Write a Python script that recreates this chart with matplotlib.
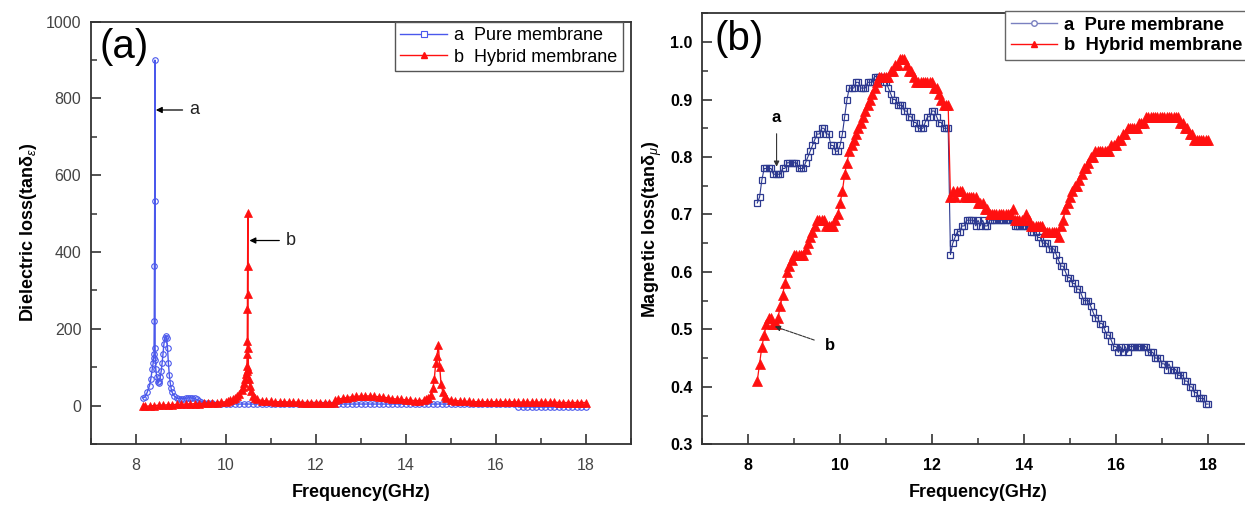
import numpy as np
import matplotlib.pyplot as plt
from matplotlib.lines import Line2D
from matplotlib.ticker import MultipleLocator

plt.rcParams['font.family'] = ['Liberation Sans', 'DejaVu Sans']
plt.rcParams['mathtext.fontset'] = 'custom'
plt.rcParams['mathtext.rm'] = 'Liberation Sans'
plt.rcParams['mathtext.it'] = 'Liberation Sans:italic'
plt.rcParams['mathtext.bf'] = 'Liberation Sans:bold'

# ---- (a) dielectric loss ----
freq_pure_a = [8.15, 8.20, 8.25, 8.30, 8.33, 8.36, 8.38, 8.39, 8.40, 8.405,
               8.41, 8.415, 8.42, 8.425, 8.43, 8.44, 8.46, 8.48, 8.50, 8.52,
               8.54, 8.56, 8.58, 8.60, 8.62, 8.64, 8.66, 8.68, 8.70, 8.72,
               8.74, 8.76, 8.78, 8.80, 8.85, 8.90, 8.95, 9.00, 9.05, 9.10,
               9.15, 9.20, 9.25, 9.30, 9.35, 9.40, 9.45, 9.50,
               9.6, 9.7, 9.8, 9.9, 10.0, 10.1, 10.2, 10.3, 10.4, 10.5,
               10.6, 10.7, 10.8, 10.9, 11.0, 11.1, 11.2, 11.3, 11.4, 11.5,
               11.6, 11.7, 11.8, 11.9, 12.0, 12.1, 12.2, 12.3, 12.4, 12.5,
               12.6, 12.7, 12.8, 12.9, 13.0, 13.1, 13.2, 13.3, 13.4, 13.5,
               13.6, 13.7, 13.8, 13.9, 14.0, 14.1, 14.2, 14.3, 14.4, 14.5,
               14.6, 14.7, 14.8, 14.9, 15.0, 15.1, 15.2, 15.3, 15.4, 15.5,
               15.6, 15.7, 15.8, 15.9, 16.0, 16.1, 16.2, 16.3, 16.4, 16.5,
               16.6, 16.7, 16.8, 16.9, 17.0, 17.1, 17.2, 17.3, 17.4, 17.5,
               17.6, 17.7, 17.8, 17.9, 18.0]
eps_pure = [20, 22, 35, 52, 70, 95, 110, 125, 135, 221,
            364, 533, 900, 150, 120, 95, 75, 62, 60, 65,
            75, 90, 110, 135, 160, 175, 182, 175, 150, 110,
            80, 60, 45, 35, 25, 20, 18, 18, 18, 19,
            20, 20, 20, 19, 16, 12, 10, 8,
            7, 6, 5, 5, 4, 4, 4, 4, 4, 4,
            4, 4, 4, 3, 3, 3, 3, 3, 3, 3,
            3, 3, 3, 3, 3, 3, 3, 3, 4, 4,
            4, 4, 4, 4, 4, 4, 4, 4, 4, 4,
            4, 4, 4, 4, 4, 4, 4, 4, 4, 4,
            4, 4, 4, 4, 4, 4, 4, 4, 4, 4,
            4, 4, 4, 4, 4, 4, 4, 4, 4, -4,
            -4, -4, -4, -4, -4, -4, -4, -4, -4, -4,
            -4, -4, -4, -4, -4]

freq_hyb_a = [8.15, 8.2, 8.3, 8.4, 8.5, 8.6, 8.7, 8.8, 8.9, 9.0,
              9.1, 9.2, 9.3, 9.4, 9.5, 9.6, 9.7, 9.8, 9.9, 10.0,
              10.05, 10.1, 10.15, 10.2, 10.25, 10.3, 10.35, 10.38, 10.41, 10.43,
              10.45, 10.46, 10.465, 10.47, 10.473, 10.476, 10.479, 10.482, 10.485, 10.49,
              10.5, 10.51, 10.53, 10.55, 10.6, 10.65, 10.7, 10.8, 10.9, 11.0,
              11.1, 11.2, 11.3, 11.4, 11.5, 11.6, 11.7, 11.8, 11.9, 12.0,
              12.1, 12.2, 12.3, 12.4, 12.42, 12.5, 12.6, 12.7, 12.8, 12.9,
              13.0, 13.1, 13.2, 13.3, 13.4, 13.5, 13.6, 13.7, 13.8, 13.9,
              14.0, 14.1, 14.2, 14.3, 14.4, 14.45, 14.5, 14.55, 14.6, 14.63,
              14.66, 14.69, 14.72, 14.75, 14.78, 14.82, 14.86, 14.9, 15.0, 15.1,
              15.2, 15.3, 15.4, 15.5, 15.6, 15.7, 15.8, 15.9, 16.0, 16.1,
              16.2, 16.3, 16.4, 16.5, 16.6, 16.7, 16.8, 16.9, 17.0, 17.1,
              17.2, 17.3, 17.4, 17.5, 17.6, 17.7, 17.8, 17.9, 18.0]
eps_hyb = [-2, -2, -1, 0, 1, 1, 2, 2, 3, 3,
           4, 4, 5, 5, 6, 6, 7, 8, 9, 10,
           12, 14, 17, 20, 25, 30, 40, 48, 58, 70,
           82, 90, 104, 134, 169, 251, 290, 364, 502, 150,
           95, 70, 50, 38, 25, 20, 16, 13, 12, 11,
           10, 10, 10, 9, 9, 9, 8, 8, 8, 8,
           8, 7, 7, 7, 15, 17, 19, 21, 23, 24,
           25, 25, 25, 24, 23, 22, 20, 18, 17, 16,
           15, 14, 13, 13, 14, 16, 20, 28, 45, 70,
           110, 130, 158, 100, 55, 35, 25, 20, 15, 13,
           12, 11, 11, 10, 10, 10, 10, 10, 10, 10,
           10, 10, 10, 9, 9, 9, 9, 9, 9, 9,
           9, 9, 8, 8, 8, 8, 8, 8, 8]

# ---- (b) magnetic loss, 8.2-18 GHz sweep ----
mu_pure = [0.72, 0.73, 0.76, 0.78, 0.78, 0.78, 0.78, 0.77, 0.77, 0.77,
           0.77, 0.78, 0.78, 0.79, 0.79, 0.79, 0.79, 0.79, 0.78, 0.78,
           0.78, 0.79, 0.80, 0.81, 0.82, 0.83, 0.84, 0.84, 0.85, 0.85,
           0.84, 0.84, 0.82, 0.82, 0.81, 0.81, 0.82, 0.84, 0.87, 0.90,
           0.92, 0.92, 0.92, 0.93, 0.93, 0.92, 0.92, 0.92, 0.93, 0.93,
           0.93, 0.94, 0.94, 0.94, 0.94, 0.93, 0.93, 0.92, 0.91, 0.90,
           0.90, 0.89, 0.89, 0.89, 0.88, 0.88, 0.87, 0.87, 0.86, 0.86,
           0.85, 0.85, 0.85, 0.86, 0.87, 0.87, 0.88, 0.88, 0.87, 0.86,
           0.86, 0.85, 0.85, 0.85, 0.63, 0.65, 0.66, 0.67, 0.67, 0.68,
           0.68, 0.69, 0.69, 0.69, 0.69, 0.68,
           0.69, 0.68, 0.69, 0.68, 0.68, 0.69, 0.69, 0.69, 0.69, 0.69,
           0.69, 0.69, 0.69, 0.69, 0.69, 0.69, 0.68, 0.68, 0.68, 0.68,
           0.68, 0.68, 0.68, 0.67, 0.67, 0.67, 0.66, 0.66, 0.65, 0.65,
           0.65, 0.64, 0.64, 0.64, 0.63, 0.62, 0.61, 0.61, 0.60, 0.59,
           0.59, 0.58, 0.58, 0.57, 0.57, 0.56, 0.55, 0.55, 0.55, 0.54,
           0.53, 0.52, 0.52, 0.51, 0.51, 0.50, 0.49, 0.49, 0.48, 0.47,
           0.47, 0.46, 0.47, 0.46, 0.47, 0.46, 0.47, 0.47, 0.47, 0.47,
           0.47, 0.47, 0.47, 0.47, 0.46, 0.46, 0.46, 0.45, 0.45, 0.45,
           0.44, 0.44, 0.43, 0.44, 0.43, 0.43, 0.43, 0.42, 0.42, 0.42,
           0.41, 0.41, 0.40, 0.40, 0.39, 0.39, 0.38, 0.38, 0.38, 0.37,
           0.37]
mu_hyb = [0.41, 0.44, 0.47, 0.49, 0.51, 0.52, 0.52, 0.51, 0.51, 0.52,
          0.54, 0.56, 0.58, 0.60, 0.61, 0.62, 0.63, 0.63, 0.63, 0.63,
          0.63, 0.64, 0.65, 0.66, 0.67, 0.68, 0.69, 0.69, 0.69, 0.69,
          0.68, 0.68, 0.68, 0.68, 0.69, 0.70, 0.72, 0.74, 0.77, 0.79,
          0.81, 0.82, 0.83, 0.84, 0.85, 0.86, 0.87, 0.88, 0.89, 0.90,
          0.91, 0.92, 0.93, 0.94, 0.94, 0.94, 0.94, 0.94, 0.95, 0.95,
          0.96, 0.96, 0.97, 0.97, 0.97, 0.96, 0.95, 0.95, 0.94, 0.93,
          0.93, 0.93, 0.93, 0.93, 0.93, 0.93, 0.93, 0.92, 0.92, 0.91,
          0.90, 0.89, 0.89, 0.89,
          0.73, 0.74, 0.73, 0.74, 0.74, 0.74, 0.73, 0.73, 0.73, 0.73,
          0.73, 0.73, 0.72, 0.72, 0.72, 0.71, 0.71, 0.70, 0.70, 0.70,
          0.70, 0.70, 0.70, 0.70, 0.70, 0.70, 0.70, 0.71, 0.69, 0.69,
          0.69, 0.69, 0.69, 0.70, 0.69, 0.68, 0.68, 0.68, 0.68, 0.68,
          0.68, 0.67, 0.67, 0.67, 0.67, 0.67, 0.67, 0.66, 0.68, 0.69,
          0.71, 0.72, 0.73, 0.74, 0.75, 0.75, 0.76, 0.77, 0.78, 0.78,
          0.79, 0.80, 0.80, 0.81, 0.81, 0.81, 0.81, 0.81, 0.81, 0.81,
          0.82, 0.82, 0.82, 0.83, 0.83, 0.84, 0.84, 0.85, 0.85, 0.85,
          0.85, 0.85, 0.86, 0.86, 0.86, 0.87, 0.87, 0.87, 0.87, 0.87,
          0.87, 0.87, 0.87, 0.87, 0.87, 0.87, 0.87, 0.87, 0.87, 0.87,
          0.86, 0.86, 0.85, 0.85, 0.84, 0.84, 0.83, 0.83, 0.83, 0.83,
          0.83, 0.83, 0.83]
freq_b = np.linspace(8.2, 18.0, len(mu_pure))

labels = ['a  Pure membrane', 'b  Hybrid membrane']
blue_a = '#4a58ec'
blue_b = '#2d3990'
red = '#ff1010'
spine_col = '#333333'

fig = plt.figure(figsize=(12.45, 5.07), dpi=100)
ax1 = fig.add_axes([0.0731, 0.1243, 0.4337, 0.8329])
ax2 = fig.add_axes([0.5639, 0.1237, 0.4434, 0.8500])

# panel (a)
ax1.plot(freq_pure_a, eps_pure, color=blue_a, lw=1.0, marker='o', ms=4,
         mfc='none', mec=blue_a, mew=0.8, zorder=2)
ax1.plot(freq_hyb_a, eps_hyb, color=red, lw=1.0, marker='^', ms=6,
         mfc=red, mec=red, mew=0.5, zorder=3)
ax1.set_xlim(7, 19)
ax1.set_ylim(-100, 1000)
ax1.set_xticks(range(8, 19, 2))
ax1.set_yticks(range(0, 1001, 200))
ax1.xaxis.set_minor_locator(MultipleLocator(1))
ax1.yaxis.set_minor_locator(MultipleLocator(100))
ax1.set_xlabel('Frequency(GHz)', fontsize=13, fontweight='bold', labelpad=8)
ax1.set_ylabel(r'Dielectric loss(tanδ$_\varepsilon$)', fontsize=13,
               fontweight='bold', labelpad=5)
ax1.text(0.015, 0.985, '(a)', transform=ax1.transAxes, fontsize=29,
         va='top', ha='left')
ax1.annotate('a', xy=(8.44, 770), xytext=(9.3, 770), fontsize=13,
             ha='center', va='center', color='#222222',
             arrowprops=dict(arrowstyle='-|>', color='black', lw=0.9,
                             mutation_scale=9, shrinkA=3, shrinkB=0))
ax1.annotate('b', xy=(10.52, 430), xytext=(11.45, 430), fontsize=13,
             ha='center', va='center', color='#222222',
             arrowprops=dict(arrowstyle='-|>', color='black', lw=0.9,
                             mutation_scale=9, shrinkA=3, shrinkB=0))
hand_a = [Line2D([], [], color=blue_a, lw=1, marker='s', ms=4, mfc='white', mec=blue_a, mew=0.8),
          Line2D([], [], color=red, lw=1, marker='^', ms=5, mfc=red, mec=red)]
leg1 = ax1.legend(hand_a, labels, loc='upper right', bbox_to_anchor=(0.985, 1.0),
                  borderaxespad=0, fontsize=13, fancybox=False, edgecolor='#555555',
                  handlelength=2.6, handletextpad=0.4, labelspacing=0.25,
                  borderpad=0.3, framealpha=1)
leg1.get_frame().set_linewidth(1.0)
for lbl in ax1.get_xticklabels() + ax1.get_yticklabels():
    lbl.set_color('#444444')

# panel (b)
ax2.plot(freq_b, mu_pure, color=blue_b, lw=0.8, marker='s', ms=5,
         mfc='none', mec=blue_b, mew=0.9, zorder=2)
ax2.plot(freq_b, mu_hyb, color=red, lw=0.9, marker='^', ms=6.5,
         mfc=red, mec=red, mew=0.5, zorder=3)
ax2.set_xlim(7, 19)
ax2.set_ylim(0.3, 1.05)
ax2.set_xticks(range(8, 19, 2))
ax2.set_yticks(np.arange(0.3, 1.01, 0.1))
ax2.set_yticklabels(['0.3', '0.4', '0.5', '0.6', '0.7', '0.8', '0.9', '1.0'])
ax2.xaxis.set_minor_locator(MultipleLocator(1))
ax2.yaxis.set_minor_locator(MultipleLocator(0.05))
ax2.set_xlabel('Frequency(GHz)', fontsize=13, fontweight='bold', labelpad=8)
ax2.set_ylabel(r'Magnetic loss(tanδ$_\mu$)', fontsize=13,
               fontweight='bold', labelpad=4)
ax2.text(0.022, 0.985, '(b)', transform=ax2.transAxes, fontsize=29,
         va='top', ha='left')
ax2.annotate('a', xy=(8.62, 0.783), xytext=(8.62, 0.868), fontsize=12,
             fontweight='bold', ha='center', va='center',
             arrowprops=dict(arrowstyle='-|>', color='#333333', lw=0.8,
                             mutation_scale=8, shrinkA=4, shrinkB=0))
ax2.annotate('b', xy=(8.58, 0.505), xytext=(9.78, 0.472), fontsize=12,
             fontweight='bold', ha='center', va='center',
             arrowprops=dict(arrowstyle='-|>', color='#333333', lw=0.8,
                             linestyle=(0, (3, 1)), mutation_scale=8,
                             shrinkA=6, shrinkB=0))
hand_b = [Line2D([], [], color='#7a80c0', lw=1, marker='o', ms=4, mfc='white', mec='#7a80c0'),
          Line2D([], [], color=red, lw=1, marker='^', ms=5, mfc=red, mec=red)]
leg2 = ax2.legend(hand_b, labels, loc='upper left', bbox_to_anchor=(0.549, 1.005),
                  borderaxespad=0, prop={'size': 13.3, 'weight': 'bold'},
                  fancybox=False, edgecolor='#666666', handlelength=2.5,
                  handletextpad=0.4, labelspacing=0.2, borderpad=0.3,
                  framealpha=1)
leg2.get_frame().set_linewidth(1.0)
for lbl in ax2.get_xticklabels() + ax2.get_yticklabels():
    lbl.set_fontweight('bold')

for ax in (ax1, ax2):
    for s in ax.spines.values():
        s.set_linewidth(1.3)
        s.set_color(spine_col)
    ax.tick_params(which='major', direction='in', length=7, width=1.2,
                   labelsize=11.5, pad=7, color=spine_col)
    ax.tick_params(which='minor', direction='in', length=4, width=1.1,
                   color=spine_col)
    ax.tick_params(axis='x', which='major', pad=10)

fig.savefig('out.png', dpi=100)
